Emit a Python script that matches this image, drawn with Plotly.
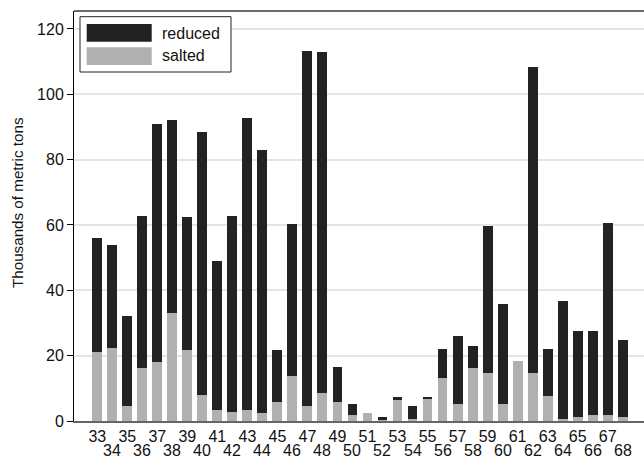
import plotly.graph_objects as go

years = list(range(33, 69))
salted = [21.0, 22.3, 4.5, 16.1, 18.2, 33.1, 21.6, 7.9, 3.5, 2.9, 3.5, 2.5, 5.9, 13.7, 4.5, 8.7, 5.9, 1.7,
          2.5, 0.3, 6.4, 0.5, 6.6, 13.3, 5.2, 16.1, 14.8, 5.2, 18.5, 14.8, 7.8, 0.5, 1.2, 1.8, 1.8, 1.2]
total = [56.1, 54.0, 32.2, 62.9, 91.0, 92.1, 62.5, 88.6, 48.9, 62.9, 92.9, 83.1, 21.6, 60.4, 113.4, 113.1, 16.6, 5.3,
         2.5, 1.1, 7.5, 4.7, 7.5, 22.1, 25.9, 22.9, 59.8, 35.7, 18.5, 108.5, 22.1, 36.6, 27.4, 27.4, 60.5, 24.9]
reduced = [round(t - s, 1) for t, s in zip(total, salted)]

odd_years = [y for y in years if y % 2 == 1]
even_years = [y for y in years if y % 2 == 0]

DARK = "#222222"
GRAY = "#b0b0b0"
FONT = "Liberation Sans, Arial, sans-serif"
FS = 16

fig = go.Figure()
fig.add_trace(go.Bar(x=years, y=salted, name="salted",
                     marker=dict(color=GRAY, line=dict(width=0)),
                     width=0.66, showlegend=False))
fig.add_trace(go.Bar(x=years, y=reduced, name="reduced",
                     marker=dict(color=DARK, line=dict(width=0)),
                     width=0.66, showlegend=False))

fig.update_layout(
    barmode="stack",
    width=644, height=459,
    margin=dict(l=74, r=0, t=11, b=38),
    plot_bgcolor="white", paper_bgcolor="white",
    font=dict(family=FONT, size=FS, color="#111"),
    showlegend=False,
)
fig.update_xaxes(range=[31.45, 69.42], tickvals=odd_years, ticktext=[str(y) for y in odd_years],
                 showgrid=False, zeroline=False, showline=True, linecolor="#666", linewidth=2,
                 ticks="", tickfont=dict(size=FS, family=FONT))
fig.update_yaxes(range=[0, 125.5], tickvals=[0, 20, 40, 60, 80, 100, 120], showgrid=True, gridcolor="#e4e4e4",
                 gridwidth=1.5, zeroline=False, showline=True, linecolor="black", linewidth=1,
                 ticks="outside", ticklen=6, tickcolor="black",
                 tickfont=dict(size=FS, family=FONT))

# y-axis title
fig.add_annotation(x=(17 - 74) / 570, y=(421 - 203) / 410, xref="paper", yref="paper", xanchor="center",
                   yanchor="middle", textangle=-90, text="Thousands of metric tons", showarrow=False,
                   font=dict(size=15.2, family=FONT))

for y in even_years:
    fig.add_annotation(x=y, y=0, xref="x", yref="paper", yanchor="top", yshift=-19,
                       text=str(y), showarrow=False, font=dict(size=FS, family=FONT))

# top border
fig.add_shape(type="line", xref="paper", yref="paper", x0=0, x1=1, y0=1, y1=1,
              line=dict(color="#6a6a6a", width=2))

# legend box
fig.add_shape(type="rect", xref="paper", yref="paper",
              x0=(80 - 74) / 570, x1=(231 - 74) / 570, y0=(421 - 72) / 410, y1=(421 - 16.7) / 410,
              line=dict(color="#222", width=1), fillcolor="white")
fig.add_shape(type="rect", xref="paper", yref="paper",
              x0=(86.7 - 74) / 570, x1=(151.7 - 74) / 570, y0=(421 - 41.7) / 410, y1=(421 - 24) / 410,
              line=dict(width=0), fillcolor=DARK)
fig.add_shape(type="rect", xref="paper", yref="paper",
              x0=(86.7 - 74) / 570, x1=(151.7 - 74) / 570, y0=(421 - 65) / 410, y1=(421 - 47.3) / 410,
              line=dict(width=0), fillcolor=GRAY)
fig.add_annotation(x=(160 - 74) / 570, y=(421 - 33) / 410, xref="paper", yref="paper", xanchor="left",
                   yanchor="middle", text="reduced", showarrow=False, font=dict(size=FS, family=FONT))
fig.add_annotation(x=(160 - 74) / 570, y=(421 - 56) / 410, xref="paper", yref="paper", xanchor="left",
                   yanchor="middle", text="salted", showarrow=False, font=dict(size=FS, family=FONT))

fig.write_html("out.html", config={"displayModeBar": False},
               post_script="document.body.style.margin='0';document.body.style.padding='0';"
                           "document.body.style.overflow='hidden';")
